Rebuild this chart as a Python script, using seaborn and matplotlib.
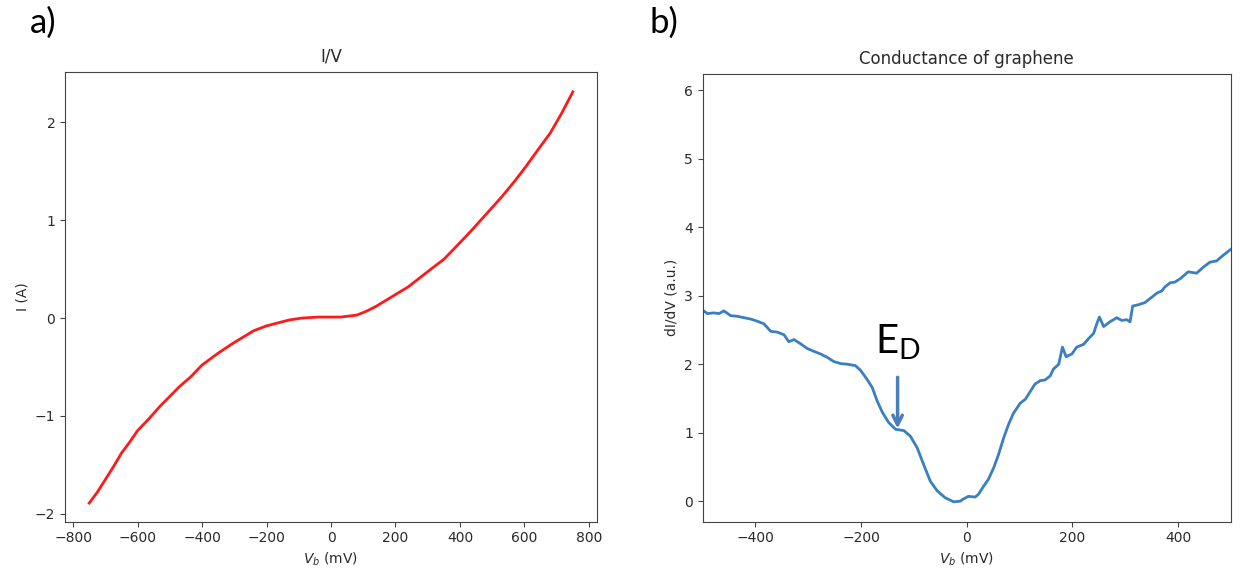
import matplotlib
matplotlib.use("Agg")
import matplotlib.pyplot as plt
import seaborn as sns

# ---- data: I/V curve (panel a) ----
iv_bias_mv = [-750, -725, -700, -675, -650, -625, -600, -565, -530, -500, -470, -435, -400,
              -355, -310, -275, -240, -200, -165, -130, -90, -40, 0, 30, 80, 110, 140, 170,
              200, 240, 275, 310, 350, 400, 440, 470, 500, 530, 570, 605, 640, 680, 715, 750]
iv_current_a = [-1.89, -1.78, -1.65, -1.52, -1.38, -1.27, -1.15, -1.03, -0.90, -0.80, -0.70,
                -0.60, -0.48, -0.37, -0.27, -0.20, -0.13, -0.08, -0.05, -0.02, 0.0, 0.01,
                0.01, 0.01, 0.03, 0.07, 0.12, 0.18, 0.24, 0.32, 0.41, 0.50, 0.60, 0.77, 0.91,
                1.02, 1.13, 1.24, 1.40, 1.55, 1.71, 1.89, 2.09, 2.31]

# ---- data: conductance (panel b) ----
g_bias_mv = [-500, -491, -479, -469, -460, -447, -434, -422, -409, -397, -384, -371, -359, -346,
             -337, -327, -315, -302, -290, -277, -264, -252, -239, -226, -211, -201, -189, -179,
             -170, -160, -148, -135, -119, -107, -94, -82, -69, -56, -41, -25, -12, -9, 3, 16,
             22, 32, 41, 51, 60, 70, 79, 88, 101, 111, 120, 129, 139, 148, 158, 164, 174, 181,
             188, 199, 208, 221, 230, 240, 246, 251, 259, 271, 284, 293, 303, 309, 314, 325,
             337, 347, 360, 369, 375, 385, 394, 404, 419, 435, 448, 460, 473, 485, 500]
g_didv = [2.79, 2.74, 2.75, 2.74, 2.78, 2.71, 2.70, 2.68, 2.66, 2.63, 2.59, 2.48, 2.47, 2.43,
          2.33, 2.36, 2.30, 2.23, 2.19, 2.15, 2.10, 2.04, 2.01, 2.00, 1.98, 1.91, 1.78, 1.66,
          1.47, 1.30, 1.15, 1.05, 1.03, 0.95, 0.78, 0.54, 0.29, 0.15, 0.05, -0.01, 0.0, 0.02,
          0.07, 0.06, 0.10, 0.22, 0.32, 0.49, 0.68, 0.93, 1.12, 1.28, 1.43, 1.49, 1.60, 1.71,
          1.76, 1.77, 1.83, 1.93, 2.00, 2.25, 2.11, 2.15, 2.25, 2.29, 2.37, 2.45, 2.59, 2.69,
          2.55, 2.62, 2.68, 2.64, 2.65, 2.62, 2.85, 2.87, 2.90, 2.96, 3.04, 3.07, 3.13, 3.19,
          3.20, 3.25, 3.35, 3.33, 3.42, 3.49, 3.51, 3.59, 3.68]

dirac_bias = -131
dirac_arrow_top = 1.85
dirac_arrow_tip = 1.02
dirac_label_y = 2.16

iv_xticks = [-800, -600, -400, -200, 0, 200, 400, 600, 800]
iv_yticks = [-2, -1, 0, 1, 2]
g_xticks = [-400, -200, 0, 200, 400]
g_yticks = [0, 1, 2, 3, 4, 5, 6]

text_col = "#2a2a2a"
plt.rcParams.update({
    "font.family": ["DejaVu Sans"],
    "axes.edgecolor": "#444444",
    "xtick.color": "#444444",
    "ytick.color": "#444444",
    "xtick.labelcolor": text_col,
    "ytick.labelcolor": text_col,
    "axes.labelcolor": text_col,
    "axes.titlecolor": text_col,
})

fig = plt.figure(figsize=(12.43, 5.79), dpi=100)
ax1 = fig.add_axes([0.0523, 0.0990, 0.4803 - 0.0523, 0.8751 - 0.0990])
ax2 = fig.add_axes([0.5653, 0.0990, 0.9903 - 0.5653, 0.8722 - 0.0990])

sns.lineplot(x=iv_bias_mv, y=iv_current_a, ax=ax1, color="#ff1a1a", linewidth=2.0)
ax1.set_xlim(-825, 825)
ax1.set_ylim(-2.08, 2.51)
ax1.set_xticks(iv_xticks)
ax1.set_yticks(iv_yticks)
ax1.set_title("I/V", fontsize=12, pad=8)
ax1.set_xlabel("$V_b$ (mV)", fontsize=10)
ax1.set_ylabel("I (A)", fontsize=10)
ax1.tick_params(labelsize=10)

sns.lineplot(x=g_bias_mv, y=g_didv, ax=ax2, color="#3a7fc1", linewidth=2.0)
ax2.set_xlim(-500, 500)
ax2.set_ylim(-0.30, 6.24)
ax2.set_xticks(g_xticks)
ax2.set_yticks(g_yticks)
ax2.set_title("Conductance of graphene", fontsize=12, pad=7)
ax2.set_xlabel("$V_b$ (mV)", fontsize=10)
ax2.set_ylabel("dI/dV (a.u.)", fontsize=10)
ax2.tick_params(labelsize=10)

ax2.annotate("", xy=(dirac_bias, dirac_arrow_tip), xytext=(dirac_bias, dirac_arrow_top),
             arrowprops=dict(arrowstyle="->", color="#4a7ebb", lw=2.5, mutation_scale=17))
ax2.text(dirac_bias, dirac_label_y, r"$\mathregular{E_D}$", ha="center", va="baseline",
         fontsize=29, family=["Lato", "DejaVu Sans"], color="black")

fig.text(0.0350, 0.960, "a)", fontsize=25, ha="center", va="center",
         family=["Lato", "DejaVu Sans"], color="black")
fig.text(0.5345, 0.960, "b)", fontsize=25, ha="center", va="center",
         family=["Lato", "DejaVu Sans"], color="black")

fig.savefig("out.png", dpi=100)
